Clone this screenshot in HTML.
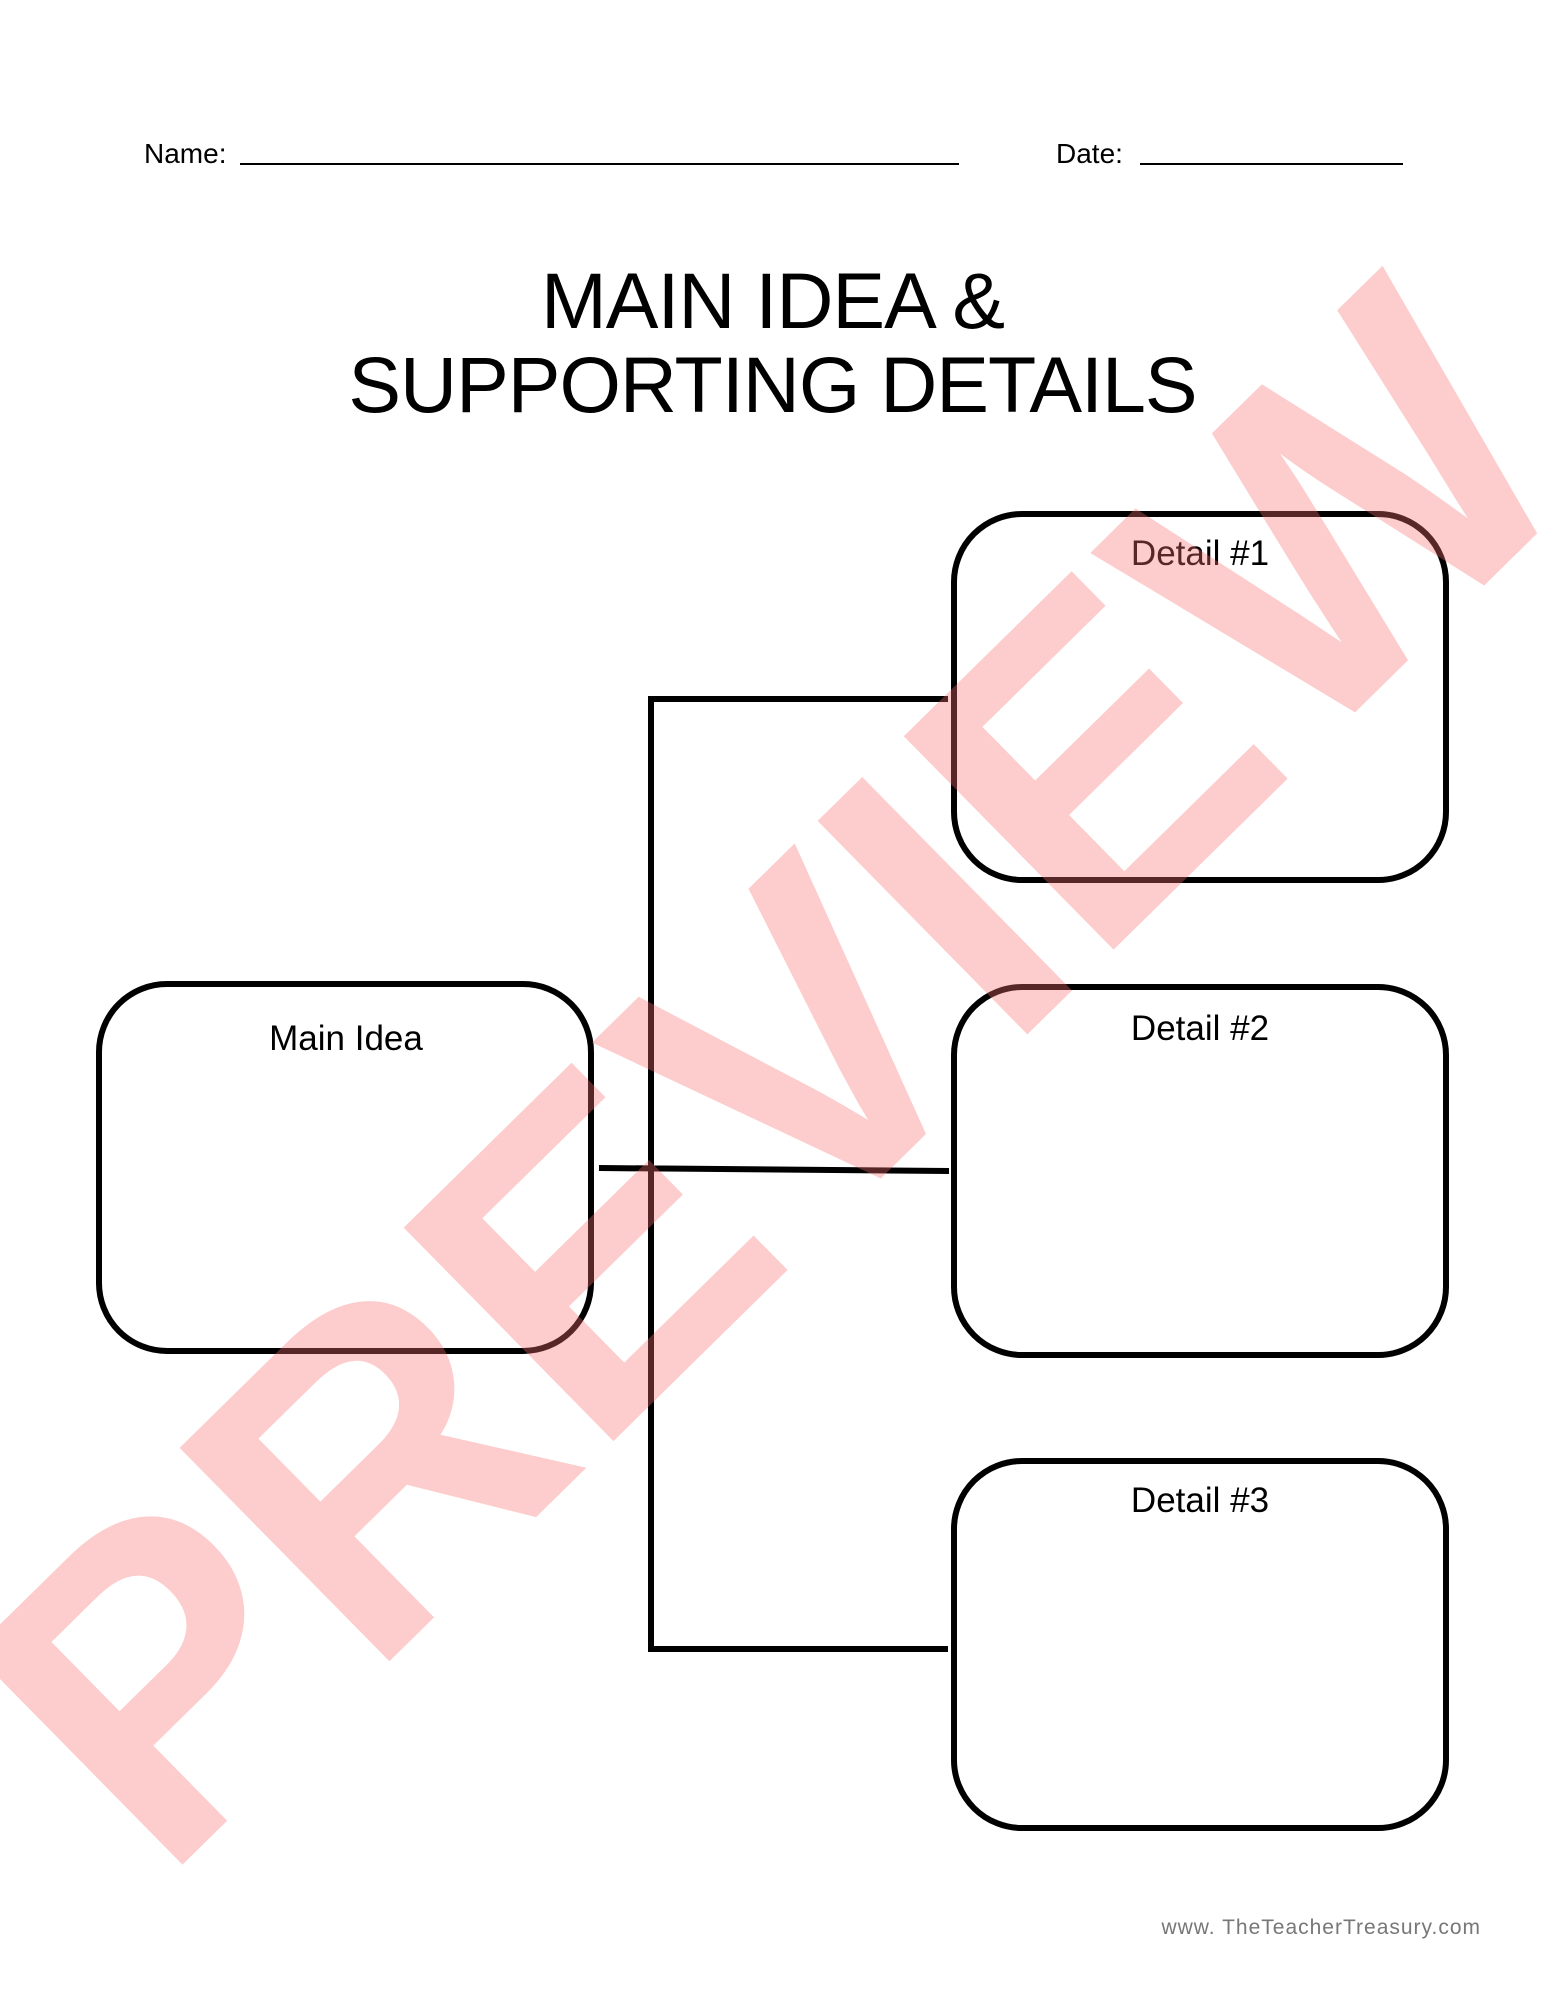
<!DOCTYPE html>
<html><head><meta charset="utf-8"><style>
html,body{margin:0;padding:0;background:#fff}
body{width:1545px;height:2000px;position:relative;overflow:hidden;font-family:"Liberation Sans",sans-serif;color:#000}
.t{position:absolute;white-space:nowrap}
</style></head><body>
<div class="t" style="left:144px;top:138px;font-size:28px">Name:</div>
<div style="position:absolute;left:240px;top:163px;width:719px;height:2px;background:#000"></div>
<div class="t" style="left:1056px;top:138px;font-size:28px">Date:</div>
<div style="position:absolute;left:1140px;top:163px;width:263px;height:2px;background:#000"></div>
<div class="t" style="left:0;width:1545px;text-align:center;top:259px;font-size:79px;line-height:84px;letter-spacing:-1px;">MAIN IDEA &amp;<br>SUPPORTING DETAILS</div>
<svg width="1545" height="2000" style="position:absolute;left:0;top:0" xmlns="http://www.w3.org/2000/svg">
<g fill="none" stroke="#000" stroke-width="6">
<rect x="954" y="514" width="492" height="366" rx="68"/>
<rect x="954" y="987" width="492" height="368" rx="68"/>
<rect x="954" y="1461" width="492" height="367" rx="68"/>
<rect x="99" y="984" width="492" height="367" rx="68"/>
<path d="M948 699 H651 V1649 H948 M599 1168 L949 1171"/>
</g>
<g font-family="Liberation Sans, sans-serif" font-size="35" text-anchor="middle" fill="#000">
<text x="1200" y="565">Detail #1</text>
<text x="1200" y="1040">Detail #2</text>
<text x="1200" y="1512">Detail #3</text>
<text x="346" y="1050">Main Idea</text>
</g>
<text x="1481" y="1934" font-family="Liberation Sans, sans-serif" font-size="21" text-anchor="end" fill="#777" letter-spacing="1">www. TheTeacherTreasury.com</text>
<text x="0" y="0" transform="translate(772 1075) rotate(-44.5)" font-family="Liberation Sans, sans-serif" font-weight="bold" font-size="435" text-anchor="middle" dominant-baseline="central" fill="rgb(248,110,110)" fill-opacity="0.35" stroke="rgb(248,110,110)" stroke-opacity="0.35" stroke-width="0">PREVIEW</text>
</svg>
</body></html>
